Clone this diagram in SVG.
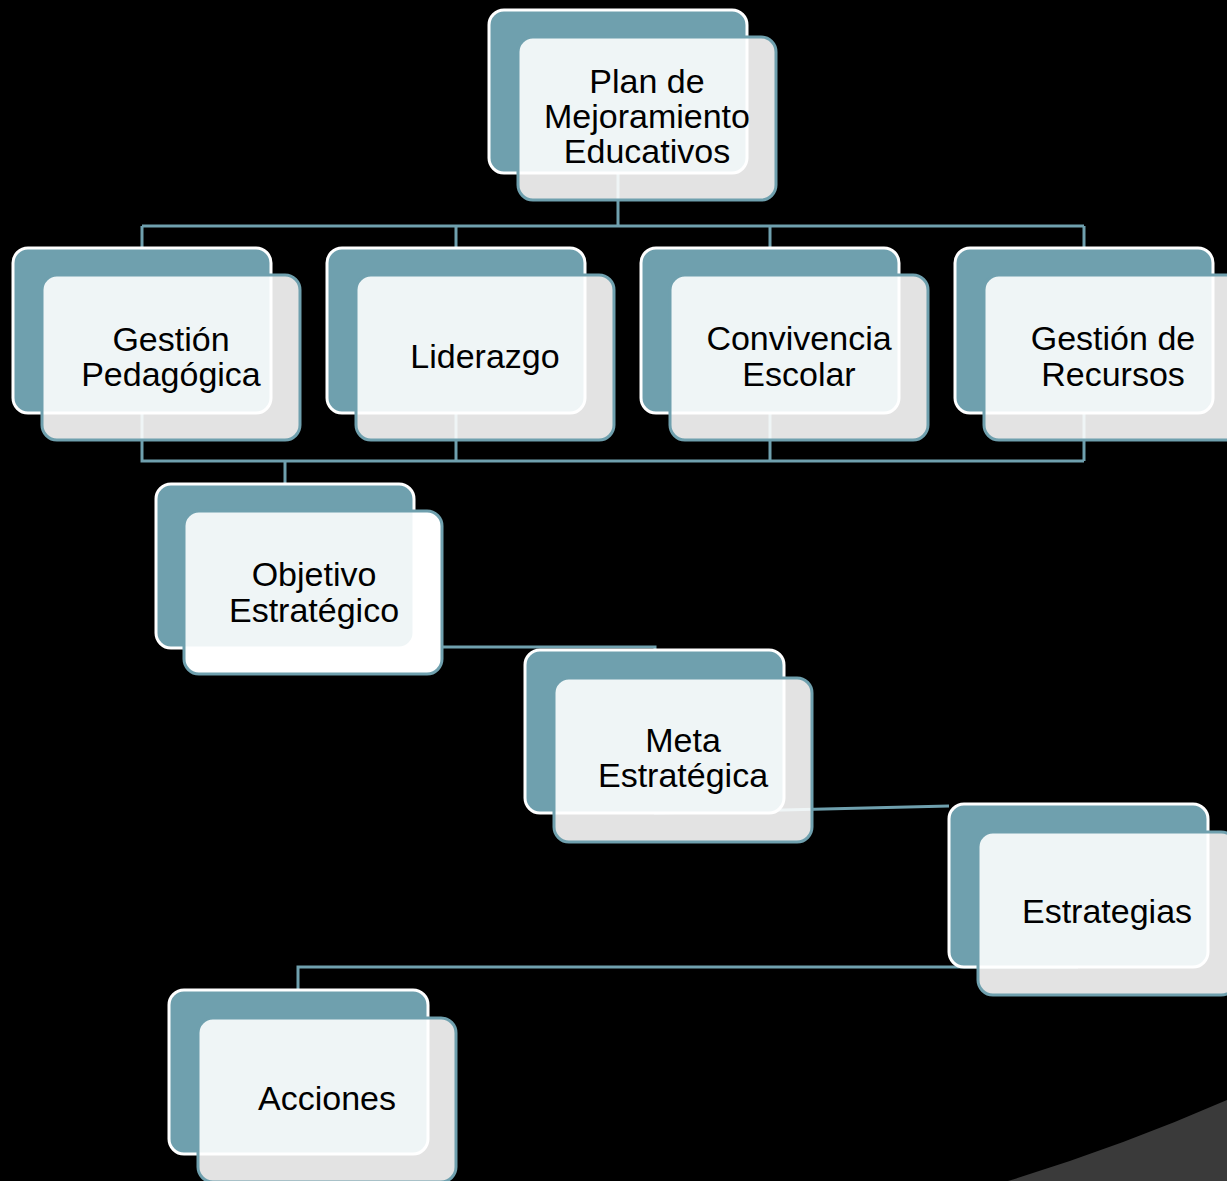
<svg xmlns="http://www.w3.org/2000/svg" width="1227" height="1181" viewBox="0 0 1227 1181">
<style>
.back{fill:#6fa0ae;stroke:#ffffff;stroke-width:3}
.front{fill:#ffffff;fill-opacity:0.89;stroke:#6fa0ae;stroke-width:3}
.solid{fill:#ffffff;stroke:none}
.conn{fill:none;stroke:#6fa0ae;stroke-width:3}
.lbl{font-family:"Liberation Sans",Arial,sans-serif;font-size:34px;fill:#000000;text-anchor:middle}
</style>
<rect x="0" y="0" width="1227" height="1181" fill="#000000"/>
<path d="M1008,1181 Q1122,1146 1227,1100 V1181 Z" fill="#3a3a3a"/>
<g id="connectors">
<path class="conn" d="M618,173 V226 M142,226 H1084 M142,226 V248 M456,226 V248 M770,226 V248 M1084,226 V248"/>
<path class="conn" d="M142,413 V461 H1084 M456,413 V461 M770,413 V461 M1084,413 V461 M285,461 V484"/>
<path class="conn" d="M285,647 H655 V650"/>
<path class="conn" d="M654,813 L949,806"/>
<path class="conn" d="M1078,967 H298 V990"/>
</g>
<g id="node-plan">
<rect class="back" x="489" y="10" width="258" height="163" rx="15"/>
<rect class="front" x="518" y="37" width="258" height="163" rx="15"/>
<text class="lbl" x="647" y="93">Plan de</text>
<text class="lbl" x="647" y="128">Mejoramiento</text>
<text class="lbl" x="647" y="163">Educativos</text>
</g>
<g id="node-gestion-pedagogica">
<rect class="back" x="13" y="248" width="258" height="165" rx="15"/>
<rect class="front" x="42" y="275" width="258" height="165" rx="15"/>
<text class="lbl" x="171" y="351">Gestión</text>
<text class="lbl" x="171" y="386">Pedagógica</text>
</g>
<g id="node-liderazgo">
<rect class="back" x="327" y="248" width="258" height="165" rx="15"/>
<rect class="front" x="356" y="275" width="258" height="165" rx="15"/>
<text class="lbl" x="485" y="368">Liderazgo</text>
</g>
<g id="node-convivencia">
<rect class="back" x="641" y="248" width="258" height="165" rx="15"/>
<rect class="front" x="670" y="275" width="258" height="165" rx="15"/>
<text class="lbl" x="799" y="350">Convivencia</text>
<text class="lbl" x="799" y="386">Escolar</text>
</g>
<g id="node-recursos">
<rect class="back" x="955" y="248" width="258" height="165" rx="15"/>
<rect class="front" x="984" y="275" width="258" height="165" rx="15"/>
<text class="lbl" x="1113" y="350">Gestión de</text>
<text class="lbl" x="1113" y="386">Recursos</text>
</g>
<g id="node-objetivo">
<rect class="solid" x="184" y="511" width="258" height="163" rx="15"/>
<rect class="back" x="156" y="484" width="258" height="164" rx="15"/>
<rect class="front" x="184" y="511" width="258" height="163" rx="15"/>
<text class="lbl" x="314" y="586">Objetivo</text>
<text class="lbl" x="314" y="622">Estratégico</text>
</g>
<g id="node-meta">
<rect class="back" x="525" y="650" width="259" height="163" rx="15"/>
<rect class="front" x="554" y="678" width="258" height="164" rx="15"/>
<text class="lbl" x="683" y="752">Meta</text>
<text class="lbl" x="683" y="787">Estratégica</text>
</g>
<g id="node-estrategias">
<rect class="back" x="949" y="804" width="259" height="163" rx="15"/>
<rect class="front" x="978" y="832" width="258" height="163" rx="15"/>
<text class="lbl" x="1107" y="923">Estrategias</text>
</g>
<g id="node-acciones">
<rect class="back" x="169" y="990" width="259" height="164" rx="15"/>
<rect class="front" x="198" y="1018" width="258" height="164" rx="15"/>
<text class="lbl" x="327" y="1110">Acciones</text>
</g>
</svg>
